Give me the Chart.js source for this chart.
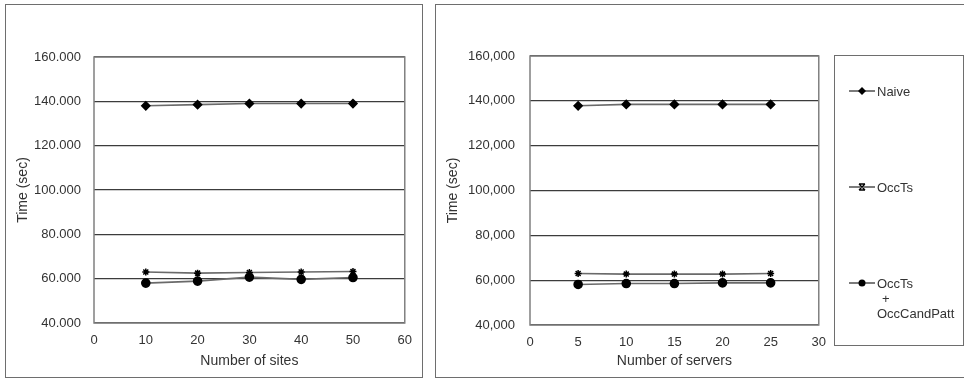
<!DOCTYPE html>
<html>
<head>
<meta charset="utf-8">
<script src="https://cdn.jsdelivr.net/npm/chart.js@4/dist/chart.umd.min.js"></script>
<style>
  body { margin: 0; background: #fff; width: 964px; height: 379px; overflow: hidden; position: relative; font-family: "Liberation Sans", Arial, sans-serif; }
  .panel { position: absolute; border: 1px solid #6e6e6e; box-sizing: border-box; }
  .panel canvas { position: absolute; left: 0; top: 0; }
  #legendBox { position: absolute; left: 834px; top: 55px; width: 130px; height: 291px; border: 1px solid #6e6e6e; box-sizing: border-box; color: #333; font-size: 13px; }
  .item { position: absolute; left: 14px; line-height: 15px; }
  .item svg { position: absolute; left: 0; top: 2px; }
  .item span { display: block; padding-left: 28px; }
</style>
</head>
<body>
<div class="panel" style="left:5px;top:4px;width:418px;height:374px;">
  <canvas id="sites" width="416" height="372"></canvas>
</div>
<div class="panel" style="left:435px;top:4px;width:535px;height:374px;">
  <canvas id="servers" width="400" height="372"></canvas>
</div>
<div id="legendBox"></div>

<script>
// data
const sites = [10, 20, 30, 40, 50];
const servers = [5, 10, 15, 20, 25];

const sitesNaive = [138000, 138500, 139000, 139000, 139000];
const sitesOccTs = [63000, 62500, 62800, 63000, 63200];
const sitesOccCand = [58000, 58900, 60700, 59700, 60500];

const serversNaive = [137800, 138400, 138400, 138400, 138400];
const serversOccTs = [63000, 62700, 62700, 62700, 63000];
const serversOccCand = [58100, 58500, 58500, 58800, 58800];

const seriesNames = ["Naive", "OccTs", "OccTs + OccCandPatt"];
const yMin = 40000, yMax = 160000, yStep = 20000;

const txt = '#333';
const lineCol = '#6a6a6a';

function fmt(v, sep) {
    return String(v).replace(/\B(?=(\d{3})+(?!\d))/g, sep);
}

function makeSets(xs, a, b, c) {
    const pts = (arr) => xs.map((x, i) => ({x: x, y: arr[i]}));
    return [
        {label: seriesNames[0], data: pts(a), pointStyle: 'rectRot', pointRadius: 4},
        {label: seriesNames[1], data: pts(b), pointStyle: 'star', pointRadius: 3.5, pointBorderWidth: 1.5},
        {label: seriesNames[2], data: pts(c), pointStyle: 'circle', pointRadius: 4}
    ].map(d => Object.assign({
        borderColor: lineCol,
        borderWidth: 1.6,
        pointBackgroundColor: '#000',
        pointBorderColor: '#000',
        tension: 0
    }, d));
}

// gray frame round the plot area
const frame = {
    id: 'frame',
    beforeDatasetsDraw(chart) {
        const a = chart.chartArea, ctx = chart.ctx;
        ctx.save();
        ctx.strokeStyle = '#808080';
        ctx.lineWidth = 1.5;
        ctx.strokeRect(a.left, a.top, a.right - a.left, a.bottom - a.top);
        ctx.restore();
    }
};

function makeChart(id, xs, sets, xMax, xStep, xTitle, sep, geo) {
    return new Chart(document.getElementById(id), {
        type: 'line',
        data: {datasets: sets},
        options: {
            responsive: false,
            animation: false,
            layout: {padding: {top: geo.top, right: geo.right, left: 0, bottom: 0}},
            plugins: {legend: {display: false}, tooltip: {enabled: false}},
            scales: {
                x: {
                    type: 'linear',
                    min: 0, max: xMax,
                    afterFit: (s) => { s.height = geo.xh; },
                    border: {display: false},
                    grid: {display: false, drawTicks: false},
                    ticks: {stepSize: xStep, color: txt, padding: 10, font: {size: 13, family: 'Liberation Sans'}},
                    title: {display: true, text: xTitle, color: txt, padding: {top: 0, bottom: 7}, font: {size: 14, family: 'Liberation Sans'}}
                },
                y: {
                    min: yMin, max: yMax,
                    afterFit: (s) => { s.width = geo.yw; },
                    border: {display: false},
                    grid: {color: '#3c3c3c', lineWidth: 1.3, drawTicks: false},
                    ticks: {stepSize: yStep, color: txt, padding: geo.tp, font: {size: 13, family: 'Liberation Sans'},
                        callback: (v) => fmt(v, sep)},
                    title: {display: true, text: 'Time (sec)', color: txt, padding: {top: 9, bottom: 0}, font: {size: 14, family: 'Liberation Sans'}}
                }
            }
        },
        plugins: [frame]
    });
}

makeChart('sites', sites, makeSets(sites, sitesNaive, sitesOccTs, sitesOccCand),
    60, 10, 'Number of sites', '.', {top: 52, right: 15, xh: 54, yw: 88, tp: 13});

const serverChart = makeChart('servers', servers, makeSets(servers, serversNaive, serversOccTs, serversOccCand),
    30, 5, 'Number of servers', ',', {top: 51, right: 15, xh: 52, yw: 94, tp: 15});

// legend box built from the datasets
const markers = {
    rectRot: '<path d="M13 1 L17 5 L13 9 L9 5 Z" fill="#000"/>',
    star: '<path d="M10 2 L16 2 M10 8 L16 8 M10 2 L16 8 M16 2 L10 8" stroke="#000" stroke-width="1.3"/>',
    circle: '<circle cx="13" cy="5" r="3.5" fill="#000"/>'
};
const itemTops = [28, 124, 220];
const box = document.getElementById('legendBox');
serverChart.data.datasets.forEach((d, i) => {
    const el = document.createElement('div');
    el.className = 'item';
    el.style.top = itemTops[i] + 'px';
    const parts = d.label.split(' + ');
    let html = '<svg width="26" height="10"><line x1="0" y1="5" x2="26" y2="5" stroke="#333" stroke-width="1.3"/>' +
        markers[d.pointStyle] + '</svg><span>' + parts[0] + '</span>';
    if (parts.length > 1) {
        html += '<span style="padding-left:33px">+</span><span>' + parts[1] + '</span>';
    }
    el.innerHTML = html;
    box.appendChild(el);
});
</script>
</body>
</html>
